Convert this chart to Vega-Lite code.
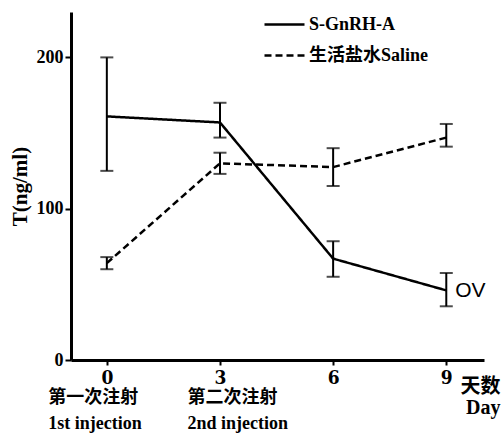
{
  "$schema": "https://vega.github.io/schema/vega-lite/v6.json",
  "width": 413,
  "height": 348,
  "autosize": {"type": "none"},
  "padding": {"left": 71, "top": 12, "right": 17, "bottom": 74},
  "background": "white",
  "config": {
    "view": {"stroke": null},
    "font": "Liberation Serif, Noto Sans CJK SC",
    "axis": {"grid": false, "domainColor": "#000000", "tickColor": "#000000", "labelColor": "#000000", "titleColor": "#000000", "domainWidth": 3, "tickWidth": 2, "labelFont": "Liberation Serif, Noto Sans CJK SC", "titleFont": "Liberation Serif, Noto Sans CJK SC", "labelFontWeight": "bold", "titleFontWeight": "bold", "labelFlush": false, "labelOverlap": false, "labelBound": false},
    "axisY": {"labelFontSize": 18, "titleFontSize": 21, "tickSize": 6, "labelPadding": 2, "titlePadding": 6, "titleColor": "#000000"}
  },
  "data": {
    "values": [
      {"group": "S-GnRH-A", "day": 0, "mean": 161, "lo": 125, "hi": 200},
      {"group": "S-GnRH-A", "day": 3, "mean": 157, "lo": 147, "hi": 170},
      {"group": "S-GnRH-A", "day": 6, "mean": 67, "lo": 55, "hi": 78.5},
      {"group": "S-GnRH-A", "day": 9, "mean": 46, "lo": 35.5, "hi": 57.5, "note": "OV"},
      {"group": "生活盐水Saline", "day": 0, "mean": 64, "lo": 60, "hi": 68},
      {"group": "生活盐水Saline", "day": 3, "mean": 130, "lo": 123, "hi": 137},
      {"group": "生活盐水Saline", "day": 6, "mean": 127.5, "lo": 115, "hi": 140},
      {"group": "生活盐水Saline", "day": 9, "mean": 147, "lo": 141, "hi": 156}
    ]
  },
  "resolve": {"axis": {"x": "independent"}},
  "layer": [
    {
      "mark": {"type": "line", "color": "black", "strokeWidth": 2.5},
      "encoding": {
        "x": {"field": "day", "type": "quantitative", "scale": {"domain": [-0.95, 10], "nice": false, "zero": false},
          "axis": {"orient": "bottom", "values": [0, 3, 6, 9], "tickSize": 5, "labelPadding": 3, "labelFontSize": 19, "labelFont": "DejaVu Serif Condensed, DejaVu Serif",
            "title": ["天数", "Day"], "titleFontSize": 20, "titleLineHeight": 21, "titleAlign": "right", "titleAngle": 0, "titleBaseline": "top", "titleX": 429, "titleY": 16}},
        "y": {"field": "mean", "type": "quantitative", "scale": {"domain": [0, 230], "nice": false},
          "axis": {"values": [0, 100, 200], "title": "T(ng/ml)", "titleFontSize": 21, "labelFontSize": 18, "titleColor": "#000000"}},
        "strokeDash": {"field": "group", "type": "nominal",
          "scale": {"domain": ["S-GnRH-A", "生活盐水Saline"], "range": [[1, 0], [7, 4]]},
          "legend": {"title": null, "orient": "none", "legendX": 192, "legendY": -9, "symbolType": "stroke", "symbolSize": 1600, "symbolStrokeWidth": 2.5, "symbolStrokeColor": "black", "labelFontSize": 18, "labelFont": "Liberation Serif, Noto Sans CJK SC", "labelFontWeight": "bold", "labelColor": "black", "labelOffset": 3, "rowPadding": -20}}
      }
    },
    {
      "mark": {"type": "rule", "color": "black", "strokeWidth": 2},
      "encoding": {
        "x": {"field": "day", "type": "quantitative", "scale": {"domain": [-0.95, 10], "nice": false, "zero": false},
          "axis": {"orient": "bottom", "values": [0, 3], "domain": false, "ticks": false, "tickSize": 0, "labelPadding": 28, "labelFontSize": 18, "labelLineHeight": 26, "labelBaseline": "top", "labelAlign": "left",
            "labelOffset": {"condition": {"test": "datum.value === 0", "value": -59}, "value": -33},
            "labelExpr": "datum.value === 0 ? ['第一次注射', '1st injection'] : ['第二次注射', '2nd injection']", "title": null}},
        "y": {"field": "lo", "type": "quantitative"},
        "y2": {"field": "hi"}
      }
    },
    {
      "mark": {"type": "tick", "color": "black", "orient": "horizontal", "size": 13, "thickness": 2},
      "encoding": {
        "x": {"field": "day", "type": "quantitative", "axis": null},
        "y": {"field": "hi", "type": "quantitative"}
      }
    },
    {
      "mark": {"type": "tick", "color": "black", "orient": "horizontal", "size": 13, "thickness": 2},
      "encoding": {
        "x": {"field": "day", "type": "quantitative", "axis": null},
        "y": {"field": "lo", "type": "quantitative"}
      }
    },
    {
      "transform": [{"filter": "datum.note"}],
      "mark": {"type": "text", "align": "left", "baseline": "middle", "dx": 9, "dy": 1, "fontSize": 21, "font": "Liberation Sans", "color": "black"},
      "encoding": {
        "x": {"field": "day", "type": "quantitative", "axis": null},
        "y": {"field": "mean", "type": "quantitative"},
        "text": {"field": "note"}
      }
    }
  ]
}
